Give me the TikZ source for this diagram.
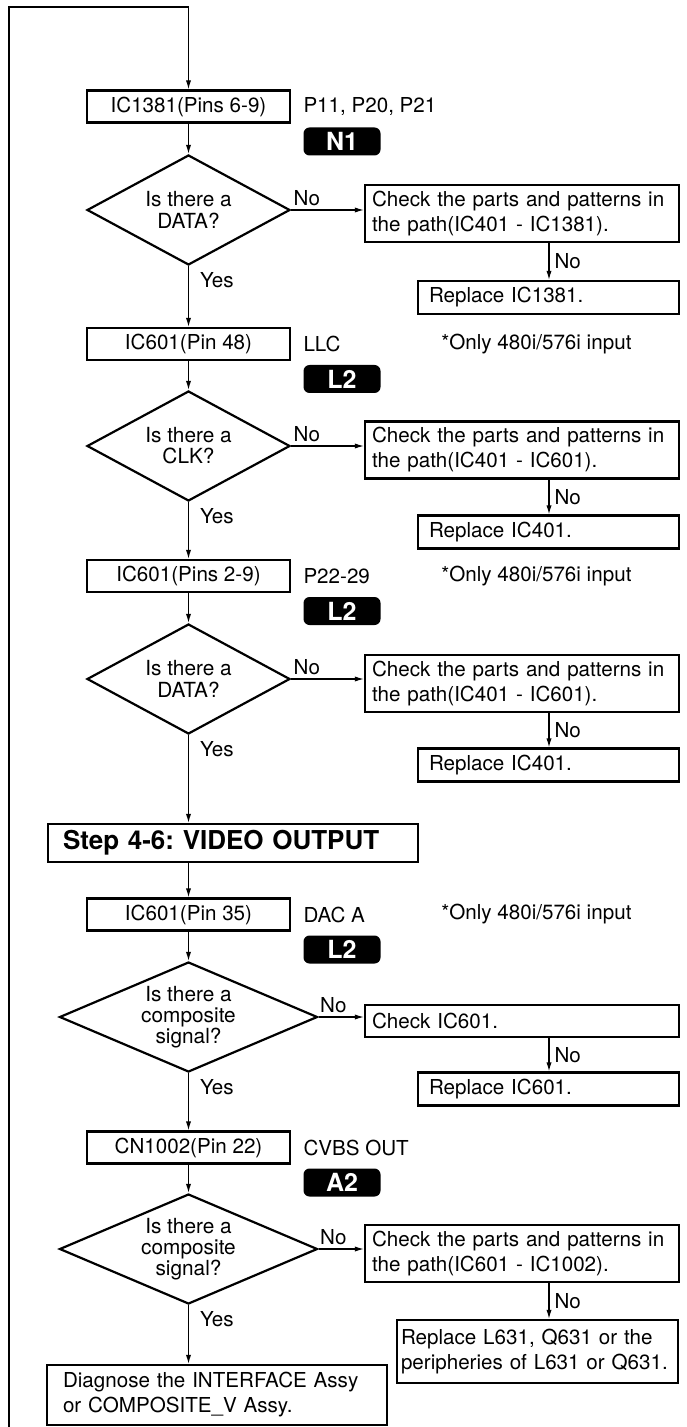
\documentclass[tikz,border=0pt]{standalone}
\usepackage{fontspec}
\setmainfont{TeX Gyre Heros}
\usetikzlibrary{positioning, arrows.meta, shapes.geometric, calc}

\tikzset{
  ibox/.style={draw, line width=1.1pt, minimum width=101.5pt, minimum height=16pt, inner sep=0pt},
  chkbox/.style={draw, line width=1.1pt, minimum height=28.5pt, text width=150pt, inner xsep=3.5pt, inner ysep=0pt, align=left},
  repbox/.style={draw, line width=1.1pt, minimum height=16.5pt, text width=119.5pt, inner xsep=5.5pt, inner ysep=0pt, align=left},
  decide/.style={diamond, draw, line width=1.1pt, inner sep=0pt, align=center, aspect=1.85,
    minimum width=101.5pt, minimum height=55pt, font=\fontsize{10.4}{10.6}\selectfont},
  decidewide/.style={decide, aspect=2.33, minimum width=129pt, minimum height=55pt},
  stepbox/.style={draw, line width=1.1pt, text width=170pt, inner xsep=7.5pt, inner ysep=0pt, minimum height=19pt,
    align=left, font=\fontsize{13}{14}\selectfont\bfseries},
  tag/.style={fill=black, text=white, rounded corners=3pt, minimum width=38.5pt, minimum height=14pt,
    inner sep=0pt, font=\fontsize{12.5}{13}\selectfont\bfseries},
  note/.style={anchor=west, inner sep=0pt},
  lbl/.style={inner sep=0pt},
  flow/.style={-{Latex[length=4.5pt,width=2.6pt]}, line width=0.6pt},
}

\begin{document}
\frenchspacing
\begin{tikzpicture}[x=0.5pt, y=-0.5pt, font=\fontsize{10.3}{12.5}\selectfont]
    \useasboundingbox (0,0) rectangle (686,1427);

    % Rozmery
    \def\tagdrop{17.5pt}
    \def\noshift{13.5pt}

    % Zpetna smycka
    \coordinate (loopbot) at (9,1427);
    \coordinate (looptop) at (9,7);

    % IC1381 -- DATA
    \node[ibox] (ic1381) at (188.5,106.5) {IC1381(Pins 6-9)};
    \node[note, right=6pt of ic1381] (pins1) {P11, P20, P21};
    \node[tag, anchor=west] (tagN1) at ([yshift=-\tagdrop]pins1.west) {N1};
    \node[decide] (qdata1) at (188.5,210) {Is there a\\DATA?};
    \node[chkbox] (chk1) at (522,213.5) {Check the parts and patterns in\\the path(IC401 - IC1381).};
    \node[repbox] (rep1) at (548.5,297.5) {Replace IC1381.};

    % IC601 Pin 48 -- CLK
    \node[ibox] (ic601a) at (188.5,344) {IC601(Pin 48)};
    \node[note, right=6pt of ic601a] (pins2) {LLC};
    \node[note] (only1) at (441,344) {*Only 480i/576i input};
    \node[tag, anchor=west] (tagL2a) at ([yshift=-\tagdrop]pins2.west) {L2};
    \node[decide] (qclk) at (188.5,446) {Is there a\\CLK?};
    \node[chkbox] (chk2) at (522,450) {Check the parts and patterns in\\the path(IC401 - IC601).};
    \node[repbox] (rep2) at (548.5,532) {Replace IC401.};

    % IC601 Pins 2-9 -- DATA
    \node[ibox] (ic601b) at (188.5,576) {IC601(Pins 2-9)};
    \node[note, right=6pt of ic601b] (pins3) {P22-29};
    \node[note] (only2) at (441,576) {*Only 480i/576i input};
    \node[tag, anchor=west] (tagL2b) at ([yshift=-\tagdrop]pins3.west) {L2};
    \node[decide] (qdata2) at (188.5,679) {Is there a\\DATA?};
    \node[chkbox] (chk3) at (522,683.5) {Check the parts and patterns in\\the path(IC401 - IC601).};
    \node[repbox] (rep3) at (548.5,765) {Replace IC401.};

    % Krok 4-6
    \node[stepbox] (step) at (233,843) {Step 4-6: VIDEO OUTPUT};

    % IC601 Pin 35 -- composite
    \node[ibox] (ic601c) at (188.5,914.5) {IC601(Pin 35)};
    \node[note, right=6pt of ic601c] (pins4) {DAC A};
    \node[note] (only3) at (441,914.5) {*Only 480i/576i input};
    \node[tag, anchor=west] (tagL2c) at ([yshift=-\tagdrop]pins4.west) {L2};
    \node[decidewide] (qcomp1) at (188.5,1017) {Is there a\\composite\\signal?};
    \node[chkbox, minimum height=16pt] (chk4) at (522,1021) {Check IC601.};
    \node[repbox] (rep4) at (548.5,1089) {Replace IC601.};

    % CN1002 -- composite
    \node[ibox] (cn1002) at (188.5,1147.5) {CN1002(Pin 22)};
    \node[note, right=6pt of cn1002] (pins5) {CVBS OUT};
    \node[tag, anchor=west] (tagA2) at ([yshift=-\tagdrop]pins5.west) {A2};
    \node[decidewide] (qcomp2) at (188.5,1249) {Is there a\\composite\\signal?};
    \node[chkbox] (chk5) at (522,1253.5) {Check the parts and patterns in\\the path(IC601 - IC1002).};
    \node[repbox, text width=136.5pt, inner xsep=2pt, minimum height=31.5pt] (rep5) at (537.5,1351.5)
        {Replace L631, Q631 or the\\peripheries of L631 or Q631.};
    \node[draw, line width=1.1pt, text width=154pt, inner xsep=8pt, inner ysep=0pt, minimum height=30pt, align=left]
        (diag) at (217,1395) {Diagnose the INTERFACE Assy\\or COMPOSITE\_V Assy.};

    % Spojky
    \draw[flow] (loopbot) -- (looptop) -| (ic1381.north);
    \draw[flow] (ic1381) -- (qdata1);
    \draw[flow] (qdata1.east) -- (qdata1.east -| chk1.west)
        node[lbl, pos=0, anchor=south west, xshift=1pt, yshift=2pt] {No};
    \draw[flow] ([xshift=\noshift]chk1.south) -- ([xshift=\noshift]chk1.south |- rep1.north)
        node[lbl, midway, right=2.5pt] {No};
    \draw[flow] (qdata1.south) -- (ic601a.north)
        node[lbl, pos=0, anchor=north west, xshift=5.5pt, yshift=-3pt] {Yes};

    \draw[flow] (ic601a) -- (qclk);
    \draw[flow] (qclk.east) -- (qclk.east -| chk2.west)
        node[lbl, pos=0, anchor=south west, xshift=1pt, yshift=2pt] {No};
    \draw[flow] ([xshift=\noshift]chk2.south) -- ([xshift=\noshift]chk2.south |- rep2.north)
        node[lbl, midway, right=2.5pt] {No};
    \draw[flow] (qclk.south) -- (ic601b.north)
        node[lbl, pos=0, anchor=north west, xshift=5.5pt, yshift=-3pt] {Yes};

    \draw[flow] (ic601b) -- (qdata2);
    \draw[flow] (qdata2.east) -- (qdata2.east -| chk3.west)
        node[lbl, pos=0, anchor=south west, xshift=1pt, yshift=2pt] {No};
    \draw[flow] ([xshift=\noshift]chk3.south) -- ([xshift=\noshift]chk3.south |- rep3.north)
        node[lbl, midway, right=2.5pt] {No};
    \draw[flow] (qdata2.south) -- (qdata2.south |- step.north)
        node[lbl, pos=0, anchor=north west, xshift=5.5pt, yshift=-3pt] {Yes};

    \draw[flow] (ic601c.north |- step.south) -- (ic601c.north);
    \draw[flow] (ic601c) -- (qcomp1);
    \draw[flow] (qcomp1.east) -- (qcomp1.east -| chk4.west)
        node[lbl, pos=0, anchor=south west, xshift=0.5pt, yshift=2pt] {No};
    \draw[flow] ([xshift=\noshift]chk4.south) -- ([xshift=\noshift]chk4.south |- rep4.north)
        node[lbl, midway, right=2.5pt] {No};
    \draw[flow] (qcomp1.south) -- (cn1002.north)
        node[lbl, pos=0, anchor=north west, xshift=5.5pt, yshift=-3pt] {Yes};

    \draw[flow] (cn1002) -- (qcomp2);
    \draw[flow] (qcomp2.east) -- (qcomp2.east -| chk5.west)
        node[lbl, pos=0, anchor=south west, xshift=0.5pt, yshift=2pt] {No};
    \draw[flow] ([xshift=\noshift]chk5.south) -- ([xshift=\noshift]chk5.south |- rep5.north)
        node[lbl, midway, right=2.5pt] {No};
    \draw[flow] (qcomp2.south) -- (qcomp2.south |- diag.north)
        node[lbl, pos=0, anchor=north west, xshift=5.5pt, yshift=-3pt] {Yes};

\end{tikzpicture}
\end{document}
